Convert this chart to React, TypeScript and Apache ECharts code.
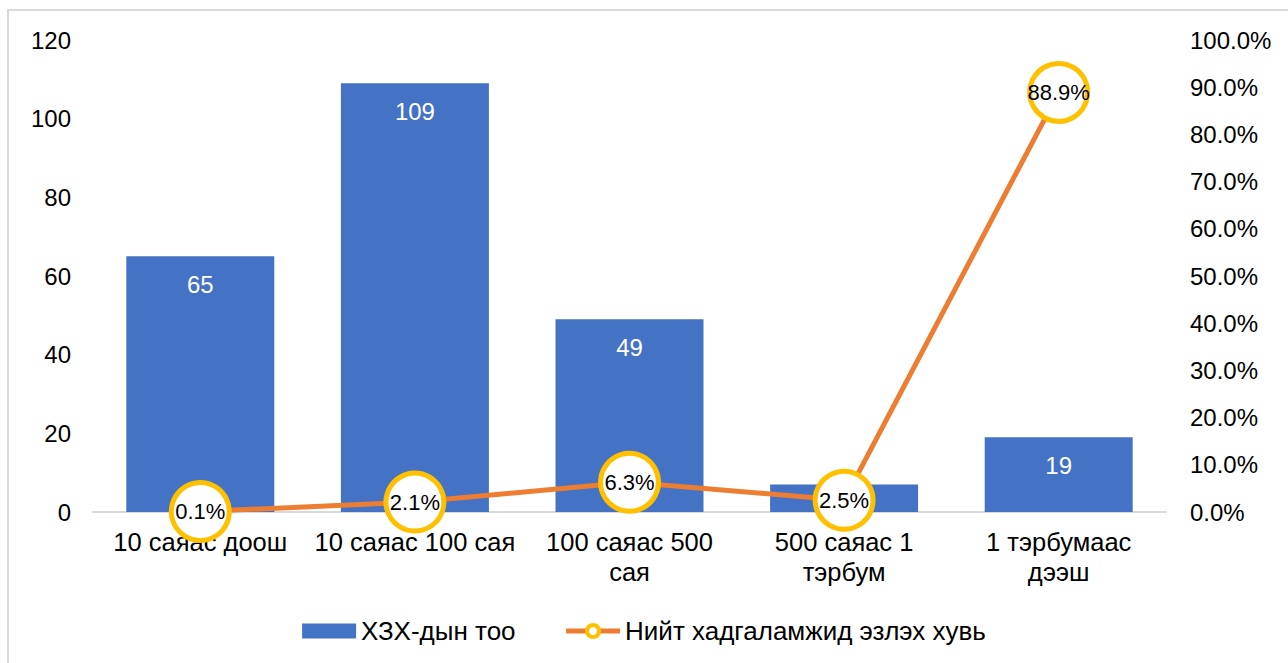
import React, { useEffect, useRef } from "react";
import * as echarts from "echarts";

const categories = [
  "10 саяас доош",
  "10 саяас 100 сая",
  "100 саяас 500\nсая",
  "500 саяас 1\nтэрбум",
  "1 тэрбумаас\nдээш",
];
const countValues = [65, 109, 49, 7, 19];
const shareValues = [0.001, 0.021, 0.063, 0.025, 0.889];
const leftTicks = { min: 0, max: 120, interval: 20 };
const rightTicks = { min: 0, max: 1, interval: 0.1 };

export default function App() {
  const ref = useRef<HTMLDivElement>(null);
  useEffect(() => {
    document.body.style.margin = "0";
    const chart = echarts.init(ref.current!, null, { renderer: "svg" });
    const font = "Liberation Sans, Arial, sans-serif";
    chart.setOption({
      animation: false,
      textStyle: { fontFamily: font },
      graphic: [
        {
          type: "rect",
          shape: { x: 8, y: 10, width: 1300, height: 700 },
          style: { fill: "none", stroke: "#d9d9d9", lineWidth: 2 },
          silent: true,
        },
      ],
      grid: { left: 93, right: 122, top: 40, bottom: 151, containLabel: false },
      legend: {
        bottom: 14,
        left: "center",
        itemGap: 48,
        itemWidth: 54,
        itemHeight: 15,
        textStyle: { fontSize: 26, color: "#000", fontFamily: font },
        data: [
          { name: "ХЗХ-дын тоо", icon: "rect" },
          {
            name: "Нийт хадгаламжид эзлэх хувь",
            lineStyle: { width: 5 },
            itemStyle: { borderWidth: 4 },
          },
        ],
      },
      xAxis: {
        type: "category",
        data: categories,
        axisLine: { lineStyle: { color: "#d9d9d9", width: 2 } },
        axisTick: { show: false },
        axisLabel: {
          color: "#000",
          fontSize: 25.5,
          lineHeight: 30,
          margin: 15,
          interval: 0,
        },
      },
      yAxis: [
        {
          type: "value",
          ...leftTicks,
          splitLine: { show: false },
          axisLine: { show: false },
          axisTick: { show: false },
          axisLabel: { color: "#000", fontSize: 24, margin: 22 },
        },
        {
          type: "value",
          ...rightTicks,
          splitLine: { show: false },
          axisLine: { show: false },
          axisTick: { show: false },
          axisLabel: {
            color: "#000",
            fontSize: 24,
            margin: 24,
            formatter: (v: number) => (v * 100).toFixed(1) + "%",
          },
        },
      ],
      series: [
        {
          name: "ХЗХ-дын тоо",
          type: "bar",
          data: countValues.map((v) =>
            v < 10 ? { value: v, label: { show: false } } : v
          ),
          barWidth: 148,
          itemStyle: { color: "#4472C4" },
          label: {
            show: true,
            position: "insideTop",
            distance: 16,
            color: "#fff",
            fontSize: 24,
          },
        },
        {
          name: "Нийт хадгаламжид эзлэх хувь",
          type: "line",
          yAxisIndex: 1,
          data: shareValues,
          symbol: "circle",
          symbolSize: 58,
          lineStyle: { color: "#ED7D31", width: 5 },
          itemStyle: { color: "#fff", borderColor: "#FFC000", borderWidth: 5 },
          label: {
            show: true,
            position: "inside",
            color: "#000",
            fontSize: 22,
            formatter: (p: any) => (p.value * 100).toFixed(1) + "%",
          },
          z: 5,
        },
      ],
    });
    return () => chart.dispose();
  }, []);
  return <div ref={ref} style={{ width: 1288, height: 663 }} />;
}
